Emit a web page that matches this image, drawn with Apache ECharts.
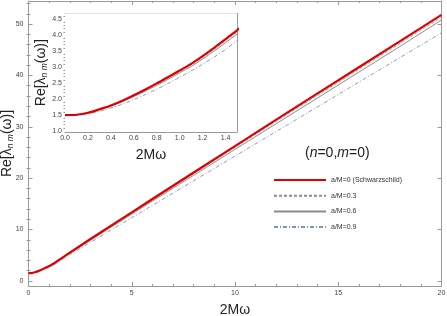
<!DOCTYPE html>
<html>
<head>
<meta charset="utf-8">
<script src="https://cdn.jsdelivr.net/npm/echarts@6/dist/echarts.min.js"></script>
<style>html,body{margin:0;padding:0;background:#fff}#chart{width:447px;height:316px}</style>
</head>
<body>
<div id="chart"></div>
<script>
// 2Mω sample points
const omega = [0, 0.1, 0.2, 0.3, 0.4, 0.5, 0.6, 0.7, 0.8, 0.9, 1.0, 1.1, 1.2, 1.3, 1.4, 1.5, 2, 3, 4, 5, 6, 8, 10, 12, 14, 16, 18, 20]
// Re[λ] for each a/M
const reA0 = [1.5, 1.51, 1.57, 1.68, 1.80, 1.95, 2.12, 2.30, 2.49, 2.69, 2.89, 3.10, 3.34, 3.60, 3.87, 4.15, 5.50, 8.15, 10.75, 13.35, 15.95, 21.1, 26.25, 31.4, 36.5, 41.6, 46.7, 51.8]
const reA3 = [1.5, 1.51, 1.57, 1.67, 1.79, 1.94, 2.10, 2.28, 2.47, 2.66, 2.86, 3.07, 3.30, 3.55, 3.82, 4.09, 5.42, 8.05, 10.62, 13.2, 15.78, 20.88, 25.98, 31.08, 36.14, 41.2, 46.26, 51.35]
const reA6 = [1.5, 1.505, 1.56, 1.66, 1.78, 1.92, 2.08, 2.25, 2.43, 2.62, 2.82, 3.02, 3.25, 3.50, 3.76, 4.03, 5.33, 7.92, 10.45, 13.0, 15.53, 20.57, 25.6, 30.62, 35.62, 40.65, 45.68, 50.8]
const reA9 = [1.5, 1.5, 1.54, 1.62, 1.72, 1.84, 1.98, 2.14, 2.31, 2.49, 2.68, 2.88, 3.09, 3.31, 3.55, 3.82, 5.1, 7.5, 9.9, 12.3, 14.7, 19.5, 24.3, 29.1, 33.9, 38.7, 43.5, 48.3]
const names = ['a/M=0 (Schwarzschild)', 'a/M=0.3', 'a/M=0.6', 'a/M=0.9']

const yMajor = [0, 10, 20, 30, 40, 50]
const yMinor = [2, 4, 6, 8, 12, 14, 16, 18, 22, 24, 26, 28, 32, 34, 36, 38, 42, 44, 46, 48, 52, 54]
const insetYMajor = [1.0, 1.5, 2.0, 2.5, 3.0, 3.5, 4.0, 4.5]
const insetYMinor = [1.1, 1.2, 1.3, 1.4, 1.6, 1.7, 1.8, 1.9, 2.1, 2.2, 2.3, 2.4, 2.6, 2.7, 2.8, 2.9, 3.1, 3.2, 3.3, 3.4, 3.6, 3.7, 3.8, 3.9, 4.1, 4.2, 4.3, 4.4, 4.6]

const chart = echarts.init(document.getElementById('chart'))
const frame = '#9a9a9a'
const lbl = { fontSize: 7, color: '#444', fontFamily: 'Liberation Sans' }
const nameStyle = { fontSize: 14, color: '#222', fontFamily: 'Liberation Sans',
  rich: { sub: { fontSize: 8.5, fontStyle: 'italic', verticalAlign: 'bottom', padding: [7, 0, 0, 0], fontFamily: 'Liberation Sans', color: '#222' } } }
const yName = 'Re[λ{sub|n m}(ω)]'

const styles = [
  { color: '#e00000', width: 2.2, type: 'solid' },
  { color: '#8a8a8a', width: 0.8, type: [3, 2] },
  { color: '#8c8c8c', width: 1, type: 'solid' },
  { color: '#7f92b8', width: 0.9, type: [4, 2, 1, 2] },
]
const sets = [reA0, reA3, reA6, reA9]
const pairs = v => omega.map((w, i) => [w, v[i]])

const series = []
sets.forEach((v, k) => {
  series.push({ name: names[k], type: 'line', xAxisIndex: 0, yAxisIndex: 0, data: pairs(v), symbol: 'none', lineStyle: styles[k], itemStyle: { color: styles[k].color }, z: 10 - k })
})
sets.forEach((v, k) => {
  series.push({ name: names[k], type: 'line', xAxisIndex: 2, yAxisIndex: 4, data: pairs(v), symbol: 'none', smooth: 0.3, clip: true, lineStyle: styles[k], itemStyle: { color: styles[k].color }, z: 10 - k })
})

const tickIn = (len, vals) => ({ show: true, inside: true, length: len, lineStyle: { color: frame }, customValues: vals })
const line = { show: true, onZero: false, lineStyle: { color: frame, width: 1 } }

chart.setOption({
  animation: false,
  grid: [
    { left: 28.5, right: 5.5, top: 1, bottom: 30, outerBoundsMode: 'none', containLabel: false },
    { left: 65, right: 210, top: 13.3, bottom: 184, show: true, backgroundColor: '#fff', borderWidth: 0, z: 5, outerBoundsMode: 'none', containLabel: false },
  ],
  legend: {
    orient: 'vertical', left: 273, top: 176, padding: 0, itemWidth: 52, itemHeight: 10, itemGap: 7.7,
    itemStyle: { opacity: 0 },
    textStyle: { fontSize: 7, color: '#333', fontFamily: 'Liberation Sans' },
    data: names,
  },
  graphic: [{
    type: 'text', left: 305, top: 146,
    style: { text: '({i|n}=0,{i|m}=0)', fontSize: 14, fill: '#222', fontFamily: 'Liberation Sans',
      rich: { i: { fontStyle: 'italic', fontSize: 14, fontFamily: 'Liberation Sans' } } },
  }],
  xAxis: [
    { gridIndex: 0, type: 'value', min: 0, max: 20, interval: 5, position: 'bottom', axisLine: line,
      axisTick: { inside: true, length: 4, lineStyle: { color: frame } },
      minorTick: { show: true, splitNumber: 5, length: 2, lineStyle: { color: frame } },
      axisLabel: { ...lbl, margin: 4 }, splitLine: { show: false },
      name: '2Mω', nameLocation: 'middle', nameGap: 17, nameMoveOverlap: false, nameTextStyle: nameStyle },
    { gridIndex: 0, type: 'value', min: 0, max: 20, interval: 5, position: 'top', axisLine: line,
      axisTick: { inside: true, length: 4, lineStyle: { color: frame } },
      minorTick: { show: true, splitNumber: 5, length: 2, lineStyle: { color: frame } },
      axisLabel: { show: false }, splitLine: { show: false } },
    { gridIndex: 1, type: 'value', min: 0, max: 1.5, interval: 0.2, position: 'bottom', axisLine: line,
      axisTick: { inside: true, length: 3, lineStyle: { color: frame } },
      minorTick: { show: true, splitNumber: 4, length: 1.5, lineStyle: { color: frame } },
      axisLabel: { ...lbl, margin: 3, formatter: v => v.toFixed(1), showMaxLabel: false }, splitLine: { show: false },
      name: '2Mω', nameLocation: 'middle', nameGap: 16, nameMoveOverlap: false, nameTextStyle: nameStyle },
    { gridIndex: 1, type: 'value', min: 0, max: 1.5, interval: 0.2, position: 'top', axisLine: line,
      axisTick: { inside: true, length: 3, lineStyle: { color: frame } },
      minorTick: { show: true, splitNumber: 4, length: 1.5, lineStyle: { color: frame } },
      axisLabel: { show: false }, splitLine: { show: false } },
  ],
  yAxis: [
    { gridIndex: 0, type: 'value', min: -1, max: 54.5, position: 'left', axisLine: line,
      axisTick: tickIn(4, yMajor), axisLabel: { ...lbl, margin: 5, customValues: yMajor }, splitLine: { show: false },
      name: yName, nameLocation: 'middle', nameGap: 13, nameMoveOverlap: false, nameTextStyle: nameStyle },
    { gridIndex: 0, type: 'value', min: -1, max: 54.5, position: 'left', axisLine: { show: false },
      axisTick: tickIn(2, yMinor), axisLabel: { show: false }, splitLine: { show: false } },
    { gridIndex: 0, type: 'value', min: -1, max: 54.5, position: 'right', axisLine: line,
      axisTick: tickIn(4, yMajor), axisLabel: { show: false }, splitLine: { show: false } },
    { gridIndex: 0, type: 'value', min: -1, max: 54.5, position: 'right', axisLine: { show: false },
      axisTick: tickIn(2, yMinor), axisLabel: { show: false }, splitLine: { show: false } },
    { gridIndex: 1, type: 'value', min: 0.97, max: 4.68, position: 'left', axisLine: line,
      axisTick: tickIn(3, insetYMajor), axisLabel: { ...lbl, margin: 3, customValues: insetYMajor, formatter: v => v.toFixed(1) }, splitLine: { show: false },
      name: yName, nameLocation: 'middle', nameGap: 16, nameMoveOverlap: false, nameTextStyle: nameStyle },
    { gridIndex: 1, type: 'value', min: 0.97, max: 4.68, position: 'left', axisLine: { show: false },
      axisTick: tickIn(1.5, insetYMinor), axisLabel: { show: false }, splitLine: { show: false } },
    { gridIndex: 1, type: 'value', min: 0.97, max: 4.68, position: 'right', axisLine: line,
      axisTick: tickIn(3, insetYMajor), axisLabel: { show: false }, splitLine: { show: false } },
    { gridIndex: 1, type: 'value', min: 0.97, max: 4.68, position: 'right', axisLine: { show: false },
      axisTick: tickIn(1.5, insetYMinor), axisLabel: { show: false }, splitLine: { show: false } },
  ],
  series,
})
</script>
</body>
</html>
